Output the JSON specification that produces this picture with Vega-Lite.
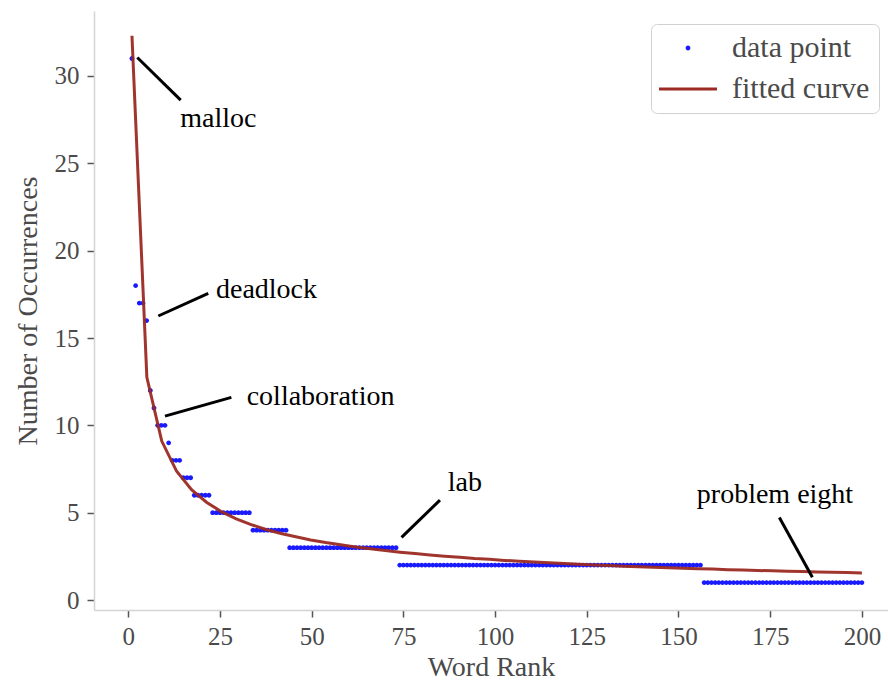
{
  "$schema": "https://vega.github.io/schema/vega-lite/v6.json",
  "width": 794,
  "height": 599,
  "autosize": {"type": "none"},
  "padding": {"left": 94, "top": 11, "right": 0, "bottom": 71},
  "background": "white",
  "config": {
    "view": {"stroke": null},
    "axis": {
      "grid": false,
      "domainColor": "#d4d4d4",
      "domainWidth": 1.5,
      "tickColor": "#555555",
      "tickWidth": 1.5,
      "tickSize": 7,
      "labelFont": "Liberation Serif",
      "labelFontSize": 25,
      "labelColor": "#4a4a4a",
      "titleFont": "Liberation Serif",
      "titleFontSize": 28,
      "titleFontWeight": "normal",
      "titleColor": "#4a4a4a"
    }
  },
  "datasets": {
    "points": [
      {"rank": 1, "count": 31}, {"rank": 2, "count": 18}, {"rank": 3, "count": 17}, {"rank": 4, "count": 17}, {"rank": 5, "count": 16},
      {"rank": 6, "count": 12}, {"rank": 7, "count": 11}, {"rank": 8, "count": 10}, {"rank": 9, "count": 10}, {"rank": 10, "count": 10},
      {"rank": 11, "count": 9}, {"rank": 12, "count": 8}, {"rank": 13, "count": 8}, {"rank": 14, "count": 8}, {"rank": 15, "count": 7},
      {"rank": 16, "count": 7}, {"rank": 17, "count": 7}, {"rank": 18, "count": 6}, {"rank": 19, "count": 6}, {"rank": 20, "count": 6},
      {"rank": 21, "count": 6}, {"rank": 22, "count": 6}, {"rank": 23, "count": 5}, {"rank": 24, "count": 5}, {"rank": 25, "count": 5},
      {"rank": 26, "count": 5}, {"rank": 27, "count": 5}, {"rank": 28, "count": 5}, {"rank": 29, "count": 5}, {"rank": 30, "count": 5},
      {"rank": 31, "count": 5}, {"rank": 32, "count": 5}, {"rank": 33, "count": 5}, {"rank": 34, "count": 4}, {"rank": 35, "count": 4},
      {"rank": 36, "count": 4}, {"rank": 37, "count": 4}, {"rank": 38, "count": 4}, {"rank": 39, "count": 4}, {"rank": 40, "count": 4},
      {"rank": 41, "count": 4}, {"rank": 42, "count": 4}, {"rank": 43, "count": 4}, {"rank": 44, "count": 3}, {"rank": 45, "count": 3},
      {"rank": 46, "count": 3}, {"rank": 47, "count": 3}, {"rank": 48, "count": 3}, {"rank": 49, "count": 3}, {"rank": 50, "count": 3},
      {"rank": 51, "count": 3}, {"rank": 52, "count": 3}, {"rank": 53, "count": 3}, {"rank": 54, "count": 3}, {"rank": 55, "count": 3},
      {"rank": 56, "count": 3}, {"rank": 57, "count": 3}, {"rank": 58, "count": 3}, {"rank": 59, "count": 3}, {"rank": 60, "count": 3},
      {"rank": 61, "count": 3}, {"rank": 62, "count": 3}, {"rank": 63, "count": 3}, {"rank": 64, "count": 3}, {"rank": 65, "count": 3},
      {"rank": 66, "count": 3}, {"rank": 67, "count": 3}, {"rank": 68, "count": 3}, {"rank": 69, "count": 3}, {"rank": 70, "count": 3},
      {"rank": 71, "count": 3}, {"rank": 72, "count": 3}, {"rank": 73, "count": 3}, {"rank": 74, "count": 2}, {"rank": 75, "count": 2},
      {"rank": 76, "count": 2}, {"rank": 77, "count": 2}, {"rank": 78, "count": 2}, {"rank": 79, "count": 2}, {"rank": 80, "count": 2},
      {"rank": 81, "count": 2}, {"rank": 82, "count": 2}, {"rank": 83, "count": 2}, {"rank": 84, "count": 2}, {"rank": 85, "count": 2},
      {"rank": 86, "count": 2}, {"rank": 87, "count": 2}, {"rank": 88, "count": 2}, {"rank": 89, "count": 2}, {"rank": 90, "count": 2},
      {"rank": 91, "count": 2}, {"rank": 92, "count": 2}, {"rank": 93, "count": 2}, {"rank": 94, "count": 2}, {"rank": 95, "count": 2},
      {"rank": 96, "count": 2}, {"rank": 97, "count": 2}, {"rank": 98, "count": 2}, {"rank": 99, "count": 2}, {"rank": 100, "count": 2},
      {"rank": 101, "count": 2}, {"rank": 102, "count": 2}, {"rank": 103, "count": 2}, {"rank": 104, "count": 2}, {"rank": 105, "count": 2},
      {"rank": 106, "count": 2}, {"rank": 107, "count": 2}, {"rank": 108, "count": 2}, {"rank": 109, "count": 2}, {"rank": 110, "count": 2},
      {"rank": 111, "count": 2}, {"rank": 112, "count": 2}, {"rank": 113, "count": 2}, {"rank": 114, "count": 2}, {"rank": 115, "count": 2},
      {"rank": 116, "count": 2}, {"rank": 117, "count": 2}, {"rank": 118, "count": 2}, {"rank": 119, "count": 2}, {"rank": 120, "count": 2},
      {"rank": 121, "count": 2}, {"rank": 122, "count": 2}, {"rank": 123, "count": 2}, {"rank": 124, "count": 2}, {"rank": 125, "count": 2},
      {"rank": 126, "count": 2}, {"rank": 127, "count": 2}, {"rank": 128, "count": 2}, {"rank": 129, "count": 2}, {"rank": 130, "count": 2},
      {"rank": 131, "count": 2}, {"rank": 132, "count": 2}, {"rank": 133, "count": 2}, {"rank": 134, "count": 2}, {"rank": 135, "count": 2},
      {"rank": 136, "count": 2}, {"rank": 137, "count": 2}, {"rank": 138, "count": 2}, {"rank": 139, "count": 2}, {"rank": 140, "count": 2},
      {"rank": 141, "count": 2}, {"rank": 142, "count": 2}, {"rank": 143, "count": 2}, {"rank": 144, "count": 2}, {"rank": 145, "count": 2},
      {"rank": 146, "count": 2}, {"rank": 147, "count": 2}, {"rank": 148, "count": 2}, {"rank": 149, "count": 2}, {"rank": 150, "count": 2},
      {"rank": 151, "count": 2}, {"rank": 152, "count": 2}, {"rank": 153, "count": 2}, {"rank": 154, "count": 2}, {"rank": 155, "count": 2},
      {"rank": 156, "count": 2}, {"rank": 157, "count": 1}, {"rank": 158, "count": 1}, {"rank": 159, "count": 1}, {"rank": 160, "count": 1},
      {"rank": 161, "count": 1}, {"rank": 162, "count": 1}, {"rank": 163, "count": 1}, {"rank": 164, "count": 1}, {"rank": 165, "count": 1},
      {"rank": 166, "count": 1}, {"rank": 167, "count": 1}, {"rank": 168, "count": 1}, {"rank": 169, "count": 1}, {"rank": 170, "count": 1},
      {"rank": 171, "count": 1}, {"rank": 172, "count": 1}, {"rank": 173, "count": 1}, {"rank": 174, "count": 1}, {"rank": 175, "count": 1},
      {"rank": 176, "count": 1}, {"rank": 177, "count": 1}, {"rank": 178, "count": 1}, {"rank": 179, "count": 1}, {"rank": 180, "count": 1},
      {"rank": 181, "count": 1}, {"rank": 182, "count": 1}, {"rank": 183, "count": 1}, {"rank": 184, "count": 1}, {"rank": 185, "count": 1},
      {"rank": 186, "count": 1}, {"rank": 187, "count": 1}, {"rank": 188, "count": 1}, {"rank": 189, "count": 1}, {"rank": 190, "count": 1},
      {"rank": 191, "count": 1}, {"rank": 192, "count": 1}, {"rank": 193, "count": 1}, {"rank": 194, "count": 1}, {"rank": 195, "count": 1},
      {"rank": 196, "count": 1}, {"rank": 197, "count": 1}, {"rank": 198, "count": 1}, {"rank": 199, "count": 1}, {"rank": 200, "count": 1}
    ],
    "curve": [
      {"rank": 1, "fit": 32.3}, {"rank": 5.06, "fit": 12.75}, {"rank": 9.12, "fit": 9.1}, {"rank": 13.18, "fit": 7.37},
      {"rank": 17.24, "fit": 6.32}, {"rank": 21.31, "fit": 5.6}, {"rank": 25.37, "fit": 5.06}, {"rank": 29.43, "fit": 4.65},
      {"rank": 33.49, "fit": 4.32}, {"rank": 37.55, "fit": 4.04}, {"rank": 41.61, "fit": 3.81}, {"rank": 45.67, "fit": 3.62},
      {"rank": 49.73, "fit": 3.44}, {"rank": 53.8, "fit": 3.29}, {"rank": 57.86, "fit": 3.16}, {"rank": 61.92, "fit": 3.04},
      {"rank": 65.98, "fit": 2.93}, {"rank": 70.04, "fit": 2.83}, {"rank": 74.1, "fit": 2.74}, {"rank": 78.16, "fit": 2.66},
      {"rank": 82.22, "fit": 2.58}, {"rank": 86.29, "fit": 2.51}, {"rank": 90.35, "fit": 2.45}, {"rank": 94.41, "fit": 2.38},
      {"rank": 98.47, "fit": 2.33}, {"rank": 102.53, "fit": 2.27}, {"rank": 106.59, "fit": 2.22}, {"rank": 110.65, "fit": 2.18},
      {"rank": 114.71, "fit": 2.13}, {"rank": 118.78, "fit": 2.09}, {"rank": 122.84, "fit": 2.05}, {"rank": 126.9, "fit": 2.01},
      {"rank": 130.96, "fit": 1.98}, {"rank": 135.02, "fit": 1.94}, {"rank": 139.08, "fit": 1.91}, {"rank": 143.14, "fit": 1.88},
      {"rank": 147.2, "fit": 1.85}, {"rank": 151.27, "fit": 1.82}, {"rank": 155.33, "fit": 1.79}, {"rank": 159.39, "fit": 1.77},
      {"rank": 163.45, "fit": 1.74}, {"rank": 167.51, "fit": 1.72}, {"rank": 171.57, "fit": 1.69}, {"rank": 175.63, "fit": 1.67},
      {"rank": 179.69, "fit": 1.65}, {"rank": 183.76, "fit": 1.63}, {"rank": 187.82, "fit": 1.61}, {"rank": 191.88, "fit": 1.59},
      {"rank": 195.94, "fit": 1.57}, {"rank": 200, "fit": 1.55}
    ],
    "notes": [
      {"word": "malloc", "tx": 14.15, "ty": 27.06, "x1": 2.45, "y1": 31.06, "x2": 14.29, "y2": 28.62},
      {"word": "deadlock", "tx": 23.9, "ty": 17.29, "x1": 8.18, "y1": 16.26, "x2": 21.8, "y2": 17.56},
      {"word": "collaboration", "tx": 32.28, "ty": 11.16, "x1": 10.0, "y1": 10.53, "x2": 28.1, "y2": 11.6},
      {"word": "lab", "tx": 87.1, "ty": 6.24, "x1": 74.5, "y1": 3.59, "x2": 84.97, "y2": 5.72},
      {"word": "problem eight", "tx": 155.0, "ty": 5.55, "x1": 186.5, "y1": 1.3, "x2": 177.5, "y2": 4.73}
    ]
  },
  "layer": [
    {
      "data": {"name": "points"},
      "mark": {"type": "point", "filled": true, "size": 400, "opacity": 1, "strokeWidth": 0},
      "encoding": {
        "x": {"field": "rank", "type": "quantitative", "scale": {"domain": [-9.35, 207.12], "nice": false, "zero": false},
              "axis": {"values": [0, 25, 50, 75, 100, 125, 150, 175, 200], "labelPadding": 7, "titlePadding": 4}, "title": "Word Rank"},
        "y": {"field": "count", "type": "quantitative", "scale": {"domain": [-0.57, 33.72], "nice": false, "zero": false},
              "axis": {"values": [0, 5, 10, 15, 20, 25, 30], "labelPadding": 8, "titlePadding": 12}, "title": "Number of Occurrences"},
        "color": {
          "datum": "data point", "type": "nominal", "title": null,
          "scale": {"domain": ["data point", "fitted curve"], "range": ["#1a1aff", "#9b2a22"]},
          "legend": {
            "orient": "none", "legendX": 557, "legendY": 13,
            "padding": 9, "strokeColor": "#d0d0d0", "fillColor": "white", "cornerRadius": 6,
            "labelFont": "Liberation Serif", "labelFontSize": 30, "labelColor": "#4a4a4a",
            "symbolSize": 400, "symbolOffset": 13, "labelOffset": 29, "rowPadding": 11, "symbolStrokeWidth": 0
          }
        },
        "shape": {
          "datum": "data point", "type": "nominal", "title": null,
          "scale": {"domain": ["data point", "fitted curve"], "range": ["M-0.24,0A0.24,0.24 0 1,0 0.24,0A0.24,0.24 0 1,0 -0.24,0Z", "M-2.9,-0.15H2.9V0.15H-2.9Z"]}
        }
      }
    },
    {
      "data": {"name": "curve"},
      "mark": {"type": "line", "color": "#9b2a22", "strokeWidth": 3, "opacity": 0.95, "clip": true},
      "encoding": {
        "x": {"field": "rank", "type": "quantitative"},
        "y": {"field": "fit", "type": "quantitative"}
      }
    },
    {
      "data": {"name": "notes"},
      "mark": {"type": "rule", "color": "black", "strokeWidth": 3},
      "encoding": {
        "x": {"field": "x1", "type": "quantitative"},
        "y": {"field": "y1", "type": "quantitative"},
        "x2": {"field": "x2"},
        "y2": {"field": "y2"}
      }
    },
    {
      "data": {"name": "notes"},
      "mark": {"type": "text", "font": "Liberation Serif", "fontSize": 28, "color": "black", "align": "left", "baseline": "alphabetic"},
      "encoding": {
        "x": {"field": "tx", "type": "quantitative"},
        "y": {"field": "ty", "type": "quantitative"},
        "text": {"field": "word"}
      }
    }
  ]
}
